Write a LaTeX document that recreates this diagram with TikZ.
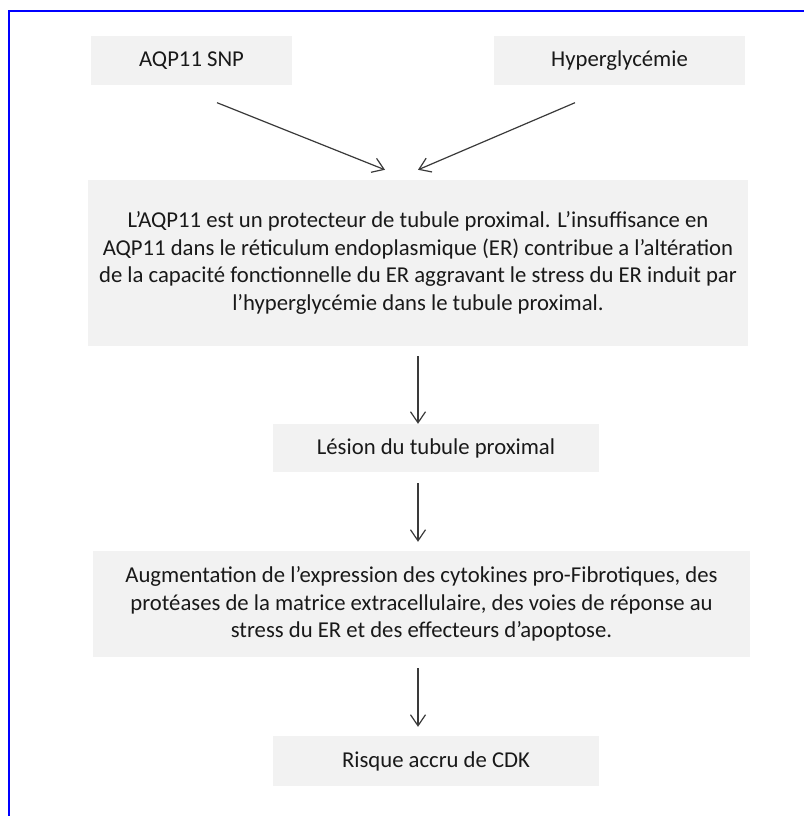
\documentclass[tikz,border=0pt]{standalone}
\usepackage{fontspec}
\setmainfont{Carlito}
\usetikzlibrary{arrows.meta}
\definecolor{boxgray}{HTML}{F2F2F2}
\definecolor{inkgray}{HTML}{3A3A3A}
\definecolor{framblue}{HTML}{0000FF}
\tikzset{
  flowbox/.style={fill=boxgray, draw=none, inner sep=0pt, align=center,
    text=black!90, font=\fontsize{22.7}{27.7}\selectfont},
  flowarrow/.style={draw=inkgray, line width=1.2pt,
    -{Straight Barb[length=11pt,width=15pt,line width=1.2pt]}},
  frameline/.style={draw=framblue, line width=2.6pt, line join=miter}
}
\begin{document}
\begin{tikzpicture}[x=1pt, y=-1pt]
  % page area
  \fill[white] (0,0) rectangle (803,816);
  \useasboundingbox (0,0) rectangle (803,816);
  % outer frame (runs off the right and bottom edges)
  \draw[frameline] (9,820) -- (9,11) -- (807,11);

  % boxes
  \node[flowbox, minimum width=201pt, minimum height=48pt] (snp) at (191.5,60.5) {AQP11 SNP};
  \node[flowbox, minimum width=251pt, minimum height=48pt] (hyp) at (619.5,60.5) {Hyperglycémie};
  \node[flowbox, minimum width=660pt, minimum height=166pt] (main) at (418,263)
    {L’AQP11 est un protecteur de tubule proximal. L’insuffisance en\\
     AQP11 dans le réticulum endoplasmique (ER) contribue a l’altération\\
     de la capacité fonctionnelle du ER aggravant le stress du ER induit par\\
     l’hyperglycémie dans le tubule proximal.};
  \node[flowbox, minimum width=326pt, minimum height=48pt] (lesion) at (436,448) {Lésion du tubule proximal};
  \node[flowbox, minimum width=657pt, minimum height=106pt] (aug) at (421.5,604)
    {Augmentation de l’expression des cytokines pro-Fibrotiques, des\\
     protéases de la matrice extracellulaire, des voies de réponse au\\
     stress du ER et des effecteurs d’apoptose.};
  \node[flowbox, minimum width=326pt, minimum height=50pt] (risk) at (436,761) {Risque accru de CDK};

  % connectors
  \draw[flowarrow] ([xshift=25.5pt,yshift=-18pt]snp.south) -- ([xshift=-33pt,yshift=10pt]main.north);
  \draw[flowarrow] ([xshift=-44.5pt,yshift=-18pt]hyp.south) -- ([yshift=10pt]main.north);
  \draw[flowarrow] ([yshift=-10pt]main.south) -- (main.south |- lesion.north);
  \draw[flowarrow] ([yshift=-11pt]main.south |- lesion.south) -- ([yshift=9pt]main.south |- aug.north);
  \draw[flowarrow] ([yshift=-11pt]main.south |- aug.south) -- ([yshift=9pt]main.south |- risk.north);
\end{tikzpicture}
\end{document}
